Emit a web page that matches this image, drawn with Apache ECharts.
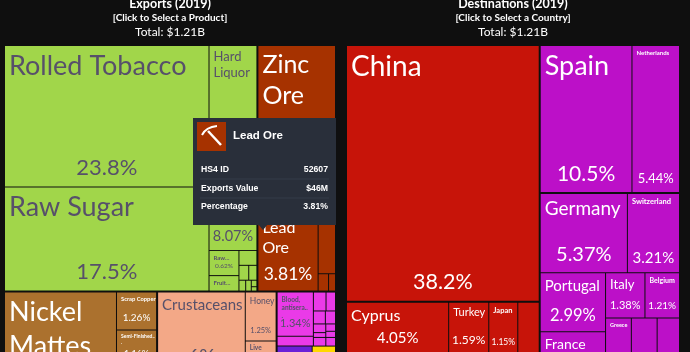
<!DOCTYPE html>
<html><head><meta charset="utf-8">
<style>html,body{margin:0;padding:0;background:#0f0f0f}#c{width:690px;height:352px}</style>
<script src="https://cdn.jsdelivr.net/npm/echarts@6/dist/echarts.min.js"></script>
</head><body><div id="c"></div>
<script>
// ---- Exports: products (values in % of total)
const productNames = ['Rolled Tobacco','Raw Sugar','Hard Liquor','Raw...','Fruit...','','','','','','','',
  'Zinc Ore','Lead Ore','','','',
  'Nickel Mattes','Scrap Copper','Semi-Finished...','',
  'Crustaceans','','Honey','Live Fish','',
  'Blood, antisera...','','','','','','','','','','','','','',''];
const productValues = [23.8,17.5,8.07,0.62,0.38,0.22,0.12,0.10,0.06,0.05,0.03,0.02,
  10.9,3.81,0.85,0.15,0.10,
  10.8,1.26,1.16,1.45,
  6.0,2.47,1.25,0.85,0.88,
  1.34,0.3,0.2,0.15,0.13,0.11,0.09,0.05,0.06,0.05,0.09,0.07,0.75,0.5,1.8];
const productGroups = [0,0,0,0,0,0,0,0,0,0,0,0, 1,1,1,1,1, 2,2,2,2, 3,3,3,3,3, 4,4,4,4,4,4,4,4,4,4,4,4, 5,6,5];
const productTree = [
  [ [[0,1],[2,[[3,4],[5,[[6,7],[8,[9,10,11]]]]]]],
    [12,[13,[14,[15,16]]]] ],
  [ [17,[18,19,20]],
    [[21,22],[23,24,25]],
    [ [[26,27],[[28,29],[30,31],[[32,33],[34,35],[36,37]]]], [[38,39],40] ] ]
];
// ---- Destinations: countries (values in % of total)
const countryNames = ['China','Cyprus','Turkey','Japan','','','','','',
  'Spain','Netherlands','Germany','Switzerland','Portugal','France','',
  'Italy','Belgium','Greece','','',''];
const countryValues = [38.2,4.05,1.59,1.15,0.85,6.2,2.5,2.1,1.36,
  10.5,5.44,5.37,3.21,2.99,2.6,2.61,1.38,1.21,0.98,0.98,0.85,3.88];
const countryGroups = [0,0,0,0,0,0,0,0,0,1,1,1,1,1,1,1,1,1,1,1,1,1];
const countryTree = [
  [0,[[1,[2,[3,4]]],[5,[6,[7,8]]]]],
  [[9,10],[[11,12],[[13,[14,15]],[[16,17],[[18,[19,20]],21]]]]]
];
// ---- Text
const exportTitle = ['Exports (2019)','[Click to Select a Product]','Total: $1.21B'];
const destTitle = ['Destinations (2019)','[Click to Select a Country]','Total: $1.21B'];
const tipTitle = 'Lead Ore';
const tipRows = [['HS4 ID','52607'],['Exports Value','$46M'],['Percentage','3.81%']];

// ---- Styling (separate from the data)
const productColors = ['#a1d64a','#a63200','#ab712e','#f3a887','#ea3ae8','#6a20d8','#ffd800'];
const productInk = ['#57506a','#ffffff','#ffffff','#57506a','#57506a','#fff','#000'];
const countryColors = ['#c71409','#bc10c8'];
const countryInk = ['#ffffff','#ffffff'];
const sizes = { // label size, percent size
 'Rolled Tobacco':[27,22],'Raw Sugar':[27,22],'Hard Liquor':[13,14.5],'Raw...':[6,6.5],'Fruit...':[6,6],
 'Zinc Ore':[25,20],'Lead Ore':[16,17.5],'Nickel Mattes':[27,24],'Scrap Copper':[5.8,10],'Semi-Finished...':[5,9],
 'Crustaceans':[15,20],'Honey':[8.5,7.5],'Live Fish':[6.5,6],'Blood, antisera...':[6.5,11],
 'China':[28,21.5],'Cyprus':[16,15],'Turkey':[11,12],'Japan':[7.5,8.5],'Spain':[27,21],'Netherlands':[6,13],
 'Germany':[19,20],'Switzerland':[7.5,15],'Portugal':[15,16.5],'France':[14,14],'Italy':[13,11],'Belgium':[7,10],'Greece':[5.5,6]
};
const FONT = 'Lato, "Noto Sans", sans-serif';

function build(node, ds, overlay){
  if (Array.isArray(node)) return {name:'',children:node.map(n=>build(n,ds,overlay))};
  const name = ds.names[node], g = ds.groups[node], s = sizes[name];
  const item = {name:name, value:ds.values[node]};
  item.itemStyle = {color: overlay ? 'rgba(0,0,0,0)' : ds.colors[g]};
  if (s) {
    const fs = overlay ? s[1] : s[0];
    item.label = {show:true,fontSize:fs,lineHeight:Math.round(fs*1.25),color:ds.ink[g],fontWeight:(!overlay&&fs<8)?'bold':'normal'};
  } else item.label = {show:false};
  return item;
}
function treemap(ds,left,width,height,ratio,overlay){
  return {
    type:'treemap',left:left,top:46,width:width,height:height,
    sort:false,squareRatio:ratio,roam:false,nodeClick:false,silent:true,
    breadcrumb:{show:false},visibleMin:0,animation:false,
    itemStyle:{gapWidth:1,borderWidth:0,borderColor:overlay?'rgba(0,0,0,0)':'#0f0f0f'},
    levels:[{itemStyle:{gapWidth:2}},{itemStyle:{gapWidth:2}}],
    upperLabel:{show:false},
    label: overlay
      ? {show:true,position:'insideBottom',distance:0,fontFamily:FONT,overflow:'none',formatter:p=>p.value+'%'}
      : {show:true,position:'insideTopLeft',distance:3,padding:[0,0,0,1],fontFamily:FONT,overflow:'break',formatter:'{b}'},
    data:ds.tree.map(n=>build(n,ds,overlay))
  };
}
const prod={names:productNames,values:productValues,groups:productGroups,tree:productTree,colors:productColors,ink:productInk};
const dest={names:countryNames,values:countryValues,groups:countryGroups,tree:countryTree,colors:countryColors,ink:countryInk};

function titles(lines,cx){
  const tops=[-3,13,26], sz=[12.5,10,12], wt=['bold','bold','normal'];
  return lines.map((t,i)=>({text:t,left:cx,top:tops[i],textAlign:'center',padding:0,
    textStyle:{color:'#fff',fontSize:sz[i],fontWeight:wt[i],fontFamily:FONT}}));
}
const TIP='"Liberation Sans", Arial, sans-serif';
const tipEls=[
 {type:'polygon',shape:{points:[[258,224],[263,230],[268,224]]},style:{fill:'#292f3a'},z:100},
 {type:'rect',shape:{x:193,y:118,width:143,height:107},style:{fill:'#292f3a'},z:100},
 {type:'rect',shape:{x:197,y:122,width:29,height:29},style:{fill:'#a63200'},z:101},
 {type:'line',shape:{x1:208,y1:131,x2:221,y2:145},style:{stroke:'#fff',lineWidth:2.5},z:102},
 {type:'bezierCurve',shape:{x1:202,y1:135,cpx1:206,cpy1:127,x2:217,y2:126},style:{stroke:'#fff',lineWidth:2,fill:null},z:102},
 {type:'text',x:233,y:136,style:{text:tipTitle,fill:'#fff',font:'bold 11.5px '+TIP,textVerticalAlign:'middle'},z:102},
 ...tipRows.flatMap((r,i)=>{const y=170+i*18.5;return [
  {type:'text',x:201,y:y,style:{text:r[0],fill:'#fff',font:'bold 8.7px '+TIP,textVerticalAlign:'middle'},z:102},
  {type:'text',x:328,y:y,style:{text:r[1],fill:'#fff',font:'bold 8.7px '+TIP,textAlign:'right',textVerticalAlign:'middle'},z:102}];}),
 ...[179,198].map(y=>({type:'line',shape:{x1:200,y1:y,x2:329,y2:y},style:{stroke:'#353c48',lineWidth:1},z:101}))
];
const chart=echarts.init(document.getElementById('c'),null,{renderer:'canvas'});
chart.setOption({
  backgroundColor:'#0f0f0f',animation:false,
  title:[...titles(exportTitle,170),...titles(destTitle,513)],
  graphic:{elements:tipEls},
  series:[
    treemap(prod,5,330,362,1,false),treemap(prod,5,330,362,1,true),
    treemap(dest,347,332,388,1.5,false),treemap(dest,347,332,388,1.5,true)
  ]
});
</script></body></html>
